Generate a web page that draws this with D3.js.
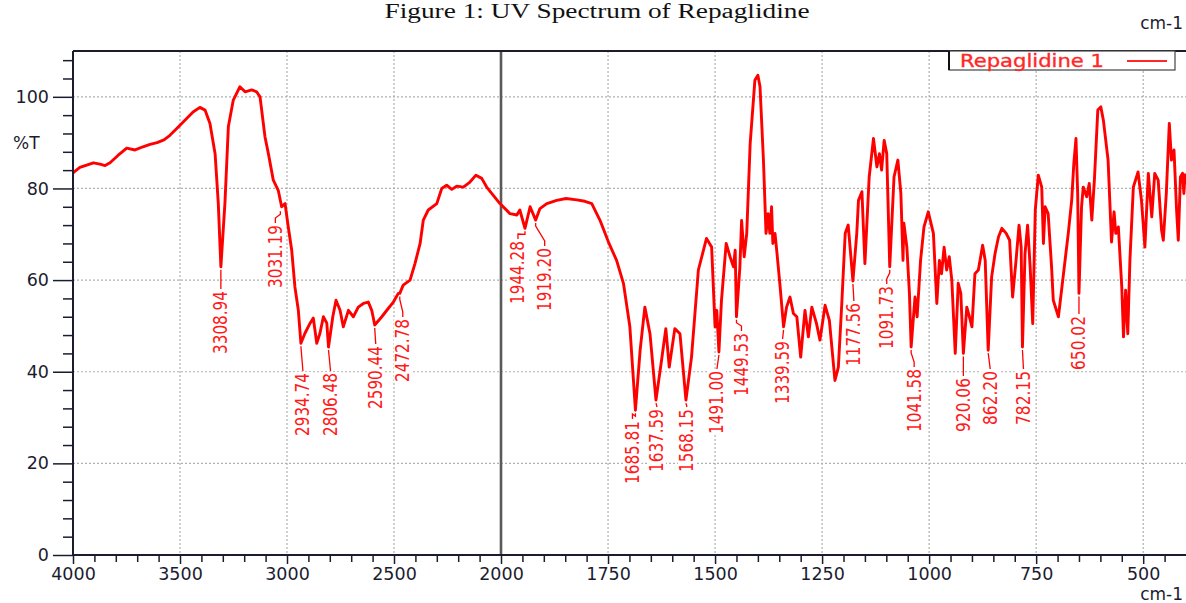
<!DOCTYPE html>
<html>
<head>
<meta charset="utf-8">
<script src="https://cdn.jsdelivr.net/npm/d3@7"></script>
<style>
  html, body { margin: 0; padding: 0; background: #fff; }
  svg { display: block; }
</style>
</head>
<body>
<svg id="chart" width="1186" height="603"></svg>
<script>
// ---------------- DATA ----------------
const title = "Figure 1: UV Spectrum of Repaglidine";
const seriesName = "Repaglidine 1";
const xUnit = "cm-1";
const yUnit = "%T";

const wavenumber = [
  4000, 3968, 3936, 3905, 3874, 3850, 3827, 3790, 3749, 3710, 3673, 3640, 3607, 3575, 3547, 3500, 3470, 3439, 3407, 3383, 3360, 3336, 3321, 3309,
  3290, 3274, 3251, 3220, 3196, 3165, 3142, 3126, 3103, 3087, 3064, 3041, 3025, 3009, 2994, 2978, 2963, 2947, 2935,
  2916, 2892, 2877, 2861, 2846, 2830, 2814, 2806, 2786, 2771, 2752, 2737, 2713, 2690, 2667, 2643, 2620, 2604, 2590,
  2557, 2527, 2503, 2480, 2473, 2457, 2425, 2402, 2378, 2363, 2340, 2300, 2277, 2254, 2230, 2207, 2176, 2145, 2117,
  2090, 2067, 2036, 2005,
  1979, 1963, 1956, 1944, 1932, 1919, 1909, 1893, 1870, 1848, 1823, 1804, 1788, 1769, 1749, 1730, 1714, 1699, 1686,
  1675, 1664, 1652, 1638, 1625, 1615, 1607, 1594, 1582, 1568, 1555, 1539, 1520, 1508, 1500, 1496, 1491, 1485, 1474,
  1465, 1457, 1453, 1450, 1442, 1438, 1432, 1426, 1418, 1407, 1400, 1395, 1387, 1381, 1376, 1372, 1368, 1365, 1360,
  1356, 1348, 1340, 1333, 1325, 1317, 1309, 1300, 1290, 1282, 1274, 1263, 1255, 1243, 1233, 1220, 1212, 1204, 1196,
  1189, 1178, 1169, 1165, 1157, 1150, 1140, 1130, 1122, 1116, 1111, 1105, 1099, 1092, 1082, 1073, 1066, 1061, 1059,
  1052, 1046, 1042, 1033, 1028, 1020, 1012, 1002, 990, 982, 976, 971, 965, 959, 953, 947, 939, 932, 926, 920, 912,
  906, 900, 893, 885, 875, 869, 862, 854, 846, 838, 830, 820, 812, 805, 797, 790, 785, 782, 776, 770, 764, 758, 752,
  745, 737, 733, 729, 722, 714, 710, 698, 687, 675, 667, 662, 657, 653, 650, 644, 640, 632, 626, 620, 614, 606, 599,
  593, 582, 574, 568, 564, 558, 550, 546, 541, 536, 531, 523, 512, 504, 496, 488, 480, 473, 465, 457, 453, 446, 439,
  434, 428, 422, 418, 413, 408, 405, 402
];
const transmittance = [
  83.4, 84.6, 85.1, 85.6, 85.3, 85.0, 85.6, 87.2, 88.8, 88.4, 89.1, 89.6, 90.0, 90.6, 91.6, 93.8, 95.2, 96.7, 97.7, 97.1, 94.2, 87.6, 76.7, 62.9,
  76.8, 93.5, 99.3, 102.2, 101.1, 101.5, 101.1, 100.0, 91.3, 87.6, 81.8, 79.6, 76.0, 76.7, 71.6, 66.5, 58.5, 53.4, 46.2,
  48.4, 50.6, 51.7, 46.2, 48.4, 52.0, 50.6, 45.4, 52.0, 55.6, 53.4, 49.8, 53.4, 52.0, 54.1, 54.9, 55.2, 53.4, 50.2,
  52.0, 53.8, 55.2, 57.1, 57.1, 58.9, 60.0, 63.6, 68.0, 73.1, 75.3, 76.7, 80.0, 80.7, 79.8, 80.5, 80.3, 81.4, 82.9,
  82.2, 80.3, 78.5, 76.7,
  74.5, 74.2, 75.3, 71.3, 76.0, 73.1, 75.6, 76.7, 77.4, 77.8, 77.5, 77.2, 76.7, 73.1, 68.3, 64.3, 59.3, 49.8, 31.6,
  44.7, 54.1, 48.3, 33.8, 42.5, 49.4, 41.0, 49.4, 48.3, 33.8, 43.2, 62.2, 69.1, 67.2, 49.8, 53.4, 44.3, 55.6, 68.0,
  65.1, 62.9, 66.5, 52.0, 62.9, 73.0, 65.1, 70.2, 89.8, 103.6, 104.7, 102.2, 86.2, 70.2, 74.5, 70.2, 76.0, 68.0, 70.2,
  66.5, 58.5, 49.8, 54.1, 56.3, 52.7, 52.0, 43.2, 53.4, 47.6, 54.1, 50.5, 46.9, 54.5, 51.2, 38.1, 41.0, 54.9, 70.2,
  72.0, 59.8, 70.2, 77.4, 79.3, 63.6, 82.5, 90.9, 84.7, 87.6, 84.0, 90.5, 87.6, 62.9, 82.5, 86.2, 78.9, 64.3, 72.4,
  67.2, 57.1, 45.4, 56.3, 52.0, 64.3, 71.6, 74.9, 70.2, 54.9, 64.3, 61.4, 67.2, 62.2, 65.1, 60.0, 44.0, 59.3, 57.1, 44.0, 54.1,
  52.0, 49.8, 61.4, 62.2, 67.6, 64.3, 44.7, 60.7, 65.8, 69.4, 71.3, 70.2, 68.7, 56.3, 64.3, 72.0, 67.2, 45.4, 65.8, 72.0, 62.9, 50.5, 75.3,
  82.9, 80.3, 68.0, 76.0, 74.5, 62.9, 55.6, 52.0, 60.7, 70.2, 77.4, 85.5, 90.9, 78.9, 57.1, 76.0, 80.3, 78.2, 81.1, 73.1, 81.8, 97.1, 97.8,
  94.9, 86.2, 68.3, 74.9, 70.2, 71.6, 58.5, 47.6, 57.8, 48.3, 64.3, 80.3, 83.6, 77.4, 67.2, 83.3, 73.8, 83.3, 81.8, 70.9, 68.7, 78.9, 94.2,
  86.2, 88.4, 75.3, 68.7, 82.5, 83.3, 78.9, 83.3
];

// peak annotations
const peakLabels = ["3308.94","3031.19","2934.74","2806.48","2590.44","2472.78","1944.28","1919.20","1685.81","1637.59",
  "1568.15","1491.00","1449.53","1339.59","1177.56","1091.73","1041.58","920.06","862.20","782.15","650.02"];
const peakWavenumber = [3309, 3031, 2935, 2806, 2590, 2473, 1944, 1919, 1686, 1638, 1568, 1491, 1450, 1340, 1178, 1092, 1042, 920, 862, 782, 650];
const peakTransmittance = [62.9, 75.7, 46.2, 45.4, 50.2, 57.1, 71.3, 73.1, 31.6, 33.8, 33.8, 44.3, 52.0, 49.8, 59.8, 62.9, 45.4, 44.0, 44.7, 45.4, 57.1];

// ticks
const xMajorTicks = [4000, 3500, 3000, 2500, 2000, 1750, 1500, 1250, 1000, 750, 500];
const yMajorTicks = [0, 20, 40, 60, 80, 100];

// ---------------- LAYOUT ----------------
const plot = { left: 73, right: 1186, top: 51, bottom: 555 };
// label layout: x shift of text centre from peak, and y of text top (pixels)
const labelDx  = [0, -5, 2, 2, 1, 3, -7, 9, -3, 1, 1, -2, 5, -1, 1, -3, 3, 0, 2, 1, 0];
const labelTop = [290, 224, 372, 372, 345, 318, 240, 247, 420, 408, 408, 370, 332, 340, 302, 285, 368, 377, 370, 370, 315];

const svg = d3.select("#chart");
const x = d3.scaleLinear().domain([4000, 2000, 400]).range([plot.left, 501, 1186]);
const y = d3.scaleLinear().domain([0, 110]).range([plot.bottom, plot.top]);

const axisColor = "#1c1c30";
const red = "#ff0000";

// grid
const gridX = xMajorTicks.filter(v => v !== 4000 && v !== 2000);
svg.append("g").selectAll("line").data(gridX).join("line")
  .attr("x1", d => x(d)).attr("x2", d => x(d))
  .attr("y1", plot.top).attr("y2", plot.bottom)
  .attr("stroke", "#b0b0b0").attr("stroke-width", 1.2).attr("stroke-dasharray", "2,2");
svg.append("g").selectAll("line").data(yMajorTicks.filter(v => v > 0)).join("line")
  .attr("x1", plot.left).attr("x2", plot.right)
  .attr("y1", d => y(d)).attr("y2", d => y(d))
  .attr("stroke", "#b0b0b0").attr("stroke-width", 1.2).attr("stroke-dasharray", "2,2");

// 2000 divider
svg.append("line").attr("x1", x(2000)).attr("x2", x(2000))
  .attr("y1", plot.top).attr("y2", plot.bottom)
  .attr("stroke", "#5a5a5a").attr("stroke-width", 2.6);

// spectrum line
const pts = wavenumber.map((w, i) => [w, transmittance[i]]);
svg.append("path").datum(pts)
  .attr("fill", "none").attr("stroke", red).attr("stroke-width", 2.9)
  .attr("stroke-linejoin", "round")
  .attr("d", d3.line().x(d => x(d[0])).y(d => y(d[1])));

// peak labels
const labG = svg.append("g");
peakLabels.forEach((lab, i) => {
  const px = x(peakWavenumber[i]), py = y(peakTransmittance[i]);
  const cx = px + labelDx[i], top = labelTop[i];
  const len = lab.length === 7 ? 63 : 54;
  const pathD = Math.abs(cx - px) > 2
    ? `M${px},${py + 3} L${px},${py + 6} Q${(px + cx) / 2},${(py + top) / 2} ${cx},${top - 6} L${cx},${top - 1}`
    : `M${px},${py + 3} L${cx},${top - 1}`;
  labG.append("rect").attr("x", cx - 9).attr("y", top).attr("width", 18).attr("height", len + 2)
    .attr("fill", "#fff");
  labG.append("path").attr("d", pathD).attr("fill", "none").attr("stroke", red).attr("stroke-width", 1.3);
  labG.append("text")
    .attr("transform", `translate(${cx + 6.5},${top + 1}) rotate(-90)`)
    .attr("text-anchor", "end")
    .attr("font-family", "'Liberation Sans Narrow','DejaVu Sans Condensed',sans-serif")
    .attr("font-size", 19)
    .attr("textLength", len).attr("lengthAdjust", "spacingAndGlyphs")
    .attr("fill", "#ff1a1a")
    .text(lab);
});

// axes frame
svg.append("line").attr("x1", plot.left).attr("x2", plot.right).attr("y1", plot.top).attr("y2", plot.top)
  .attr("stroke", axisColor).attr("stroke-width", 2);
svg.append("line").attr("x1", plot.left).attr("x2", plot.left).attr("y1", plot.top).attr("y2", plot.bottom)
  .attr("stroke", axisColor).attr("stroke-width", 2);
svg.append("line").attr("x1", plot.left).attr("x2", plot.right).attr("y1", plot.bottom).attr("y2", plot.bottom)
  .attr("stroke", axisColor).attr("stroke-width", 2);

// x ticks
const xMinor = [];
for (let v = 3900; v > 2000; v -= 100) if (v % 500) xMinor.push(v);
for (let v = 1950; v > 400; v -= 50) if (v % 250) xMinor.push(v);
const xAxisMajor = d3.axisBottom(x).tickValues(xMajorTicks).tickSize(9).tickPadding(4).tickFormat(d3.format("d"));
const xAxisMinor = d3.axisBottom(x).tickValues(xMinor).tickSize(7).tickFormat("");
const gxm = svg.append("g").attr("transform", `translate(0,${plot.bottom})`).call(xAxisMinor);
const gx = svg.append("g").attr("transform", `translate(0,${plot.bottom})`).call(xAxisMajor);
[gx, gxm].forEach(g => {
  g.select(".domain").remove();
  g.selectAll("line").attr("stroke", axisColor).attr("stroke-width", 1.5);
});
gx.selectAll("text").attr("font-family", "'DejaVu Sans',sans-serif").attr("font-size", 17.5)
  .attr("fill", axisColor);

// y ticks
const yMinor = d3.range(0, 110, 4).filter(v => v % 20);
const yAxisMajor = d3.axisLeft(y).tickValues(yMajorTicks).tickSize(20).tickPadding(4);
const yAxisMinor = d3.axisLeft(y).tickValues(yMinor).tickSize(10).tickFormat("");
const gym = svg.append("g").attr("transform", `translate(${plot.left},0)`).call(yAxisMinor);
const gy = svg.append("g").attr("transform", `translate(${plot.left},0)`).call(yAxisMajor);
[gy, gym].forEach(g => {
  g.select(".domain").remove();
  g.selectAll("line").attr("stroke", axisColor).attr("stroke-width", 1.5);
});
gy.selectAll("text").attr("font-family", "'DejaVu Sans',sans-serif").attr("font-size", 17.5)
  .attr("fill", axisColor);

// axis units
svg.append("text").attr("x", 13).attr("y", 149).attr("font-family", "'DejaVu Sans',sans-serif")
  .attr("font-size", 17).attr("fill", axisColor).text(yUnit);
svg.append("text").attr("x", 1183).attr("y", 29).attr("text-anchor", "end")
  .attr("font-family", "'DejaVu Sans',sans-serif").attr("font-size", 17).attr("fill", axisColor).text(xUnit);
svg.append("text").attr("x", 1183).attr("y", 600).attr("text-anchor", "end")
  .attr("font-family", "'DejaVu Sans',sans-serif").attr("font-size", 17).attr("fill", axisColor).text(xUnit);

// legend
const lg = svg.append("g");
lg.append("rect").attr("x", 949).attr("y", plot.top).attr("width", 226).attr("height", 19)
  .attr("fill", "#fff").attr("stroke", "#444").attr("stroke-width", 1.2);
lg.append("line").attr("x1", 949).attr("x2", 949).attr("y1", plot.top).attr("y2", plot.top + 19)
  .attr("stroke", "#111").attr("stroke-width", 2);
lg.append("text").attr("x", 960).attr("y", 67).attr("font-family", "'DejaVu Sans',sans-serif")
  .attr("font-size", 18).attr("textLength", 144).attr("lengthAdjust", "spacingAndGlyphs")
  .attr("stroke", "#ff2828").attr("stroke-width", 0.35)
  .attr("fill", "#ff2828").text(seriesName);
lg.append("line").attr("x1", 1127).attr("x2", 1167).attr("y1", 61).attr("y2", 61)
  .attr("stroke", "#ff2828").attr("stroke-width", 2);

// title (sits at the very top edge, as in the reference)
svg.append("text").attr("x", 597).attr("y", 18).attr("text-anchor", "middle")
  .attr("font-family", "'Liberation Serif','DejaVu Serif',serif").attr("font-size", 20)
  .attr("textLength", 425).attr("lengthAdjust", "spacingAndGlyphs")
  .attr("fill", "#111").text(title);
</script>
</body>
</html>
